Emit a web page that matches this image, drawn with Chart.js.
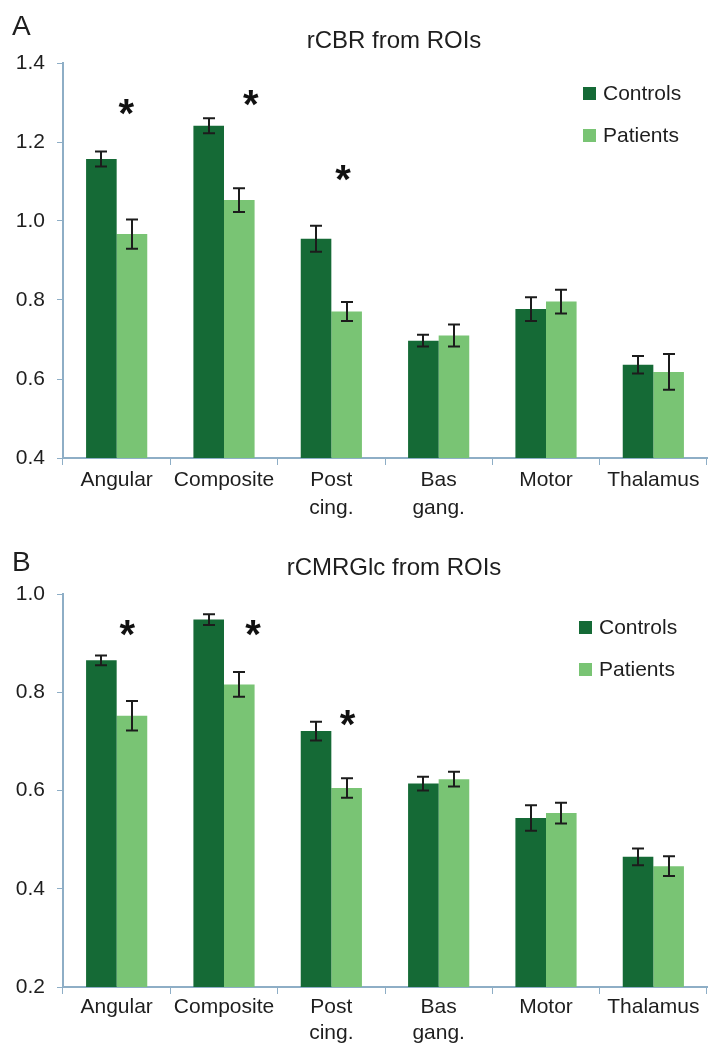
<!DOCTYPE html>
<html>
<head>
<meta charset="utf-8">
<script src="https://cdn.jsdelivr.net/npm/chart.js@4/dist/chart.umd.min.js"></script>
<style>
  body{margin:0;background:#fff;}
  #wrap{position:relative;width:708px;height:1043px;}
  .box{position:absolute;left:0;width:708px;}
</style>
</head>
<body>
<div id="wrap">
  <div class="box" style="top:0;height:521px"><canvas id="chartA"></canvas></div>
  <div class="box" style="top:521px;height:522px"><canvas id="chartB"></canvas></div>
</div>
<script>
// regions
var categories = ['Angular', 'Composite', ['Post', 'cing.'], ['Bas', 'gang.'], 'Motor', 'Thalamus'];

// A: rCBR
var cbrControls    = [1.157, 1.241, 0.955, 0.697, 0.777, 0.636];
var cbrControlsErr = [0.019, 0.019, 0.033, 0.015, 0.030, 0.022];
var cbrPatients    = [0.967, 1.053, 0.771, 0.710, 0.796, 0.618];
var cbrPatientsErr = [0.037, 0.030, 0.024, 0.028, 0.030, 0.045];
var cbrSigIdx   = [0, 1, 2];
var cbrSigLevel = [1.289, 1.311, 1.122];

// B: rCMRGlc
var glcControls    = [0.865, 0.948, 0.721, 0.614, 0.544, 0.465];
var glcControlsErr = [0.010, 0.011, 0.019, 0.014, 0.026, 0.017];
var glcPatients    = [0.752, 0.816, 0.605, 0.623, 0.554, 0.446];
var glcPatientsErr = [0.030, 0.025, 0.020, 0.015, 0.021, 0.020];
var glcSigIdx   = [0, 1, 2];
var glcSigLevel = [0.931, 0.931, 0.748];

var darkGreen = '#156a36';
var lightGreen = '#79c474';
var axisColor = '#8eaec6';
var textColor = '#1e1e1e';
var FONT = '"Liberation Sans", Arial, sans-serif';

//draws error bars, asterisks, legend, title and panel letter
var decor = {
    id: 'decor',
    afterDatasetsDraw: function(chart, args, o) {
        var ctx = chart.ctx, ys = chart.scales.y, xs = chart.scales.x;
        ctx.save();
        ctx.strokeStyle = '#1c1c1c';
        ctx.lineWidth = 2;
        chart.data.datasets.forEach(function(ds, i) {
            var meta = chart.getDatasetMeta(i);
            meta.data.forEach(function(bar, j) {
                var v = ds.data[j], e = ds.errors[j];
                var t = ys.getPixelForValue(v + e), b = ys.getPixelForValue(v - e);
                var x = Math.round(bar.x);
                ctx.beginPath();
                ctx.moveTo(x, t); ctx.lineTo(x, b);
                ctx.moveTo(x - 6, t); ctx.lineTo(x + 6, t);
                ctx.moveTo(x - 6, b); ctx.lineTo(x + 6, b);
                ctx.stroke();
            });
        });
        // significance marks
        var cw = xs.width / chart.data.labels.length;
        ctx.fillStyle = '#111';
        ctx.font = 'bold 40px ' + FONT;
        ctx.textAlign = 'center';
        ctx.textBaseline = 'alphabetic';
        var m = ctx.measureText('*');
        var shift = (m.actualBoundingBoxAscent - m.actualBoundingBoxDescent) / 2;
        o.sigIdx.forEach(function(k, n) {
            var x = xs.getPixelForValue(k) + o.sigShift[n] * cw;
            var y = ys.getPixelForValue(o.sigLevel[n]);
            ctx.fillText('*', x, y + shift);
        });
        ctx.restore();
    },
    afterDraw: function(chart, args, o) {
        var ctx = chart.ctx, area = chart.chartArea;
        ctx.save();
        ctx.fillStyle = textColor;
        ctx.textBaseline = 'middle';
        // panel letter
        ctx.font = '28px ' + FONT;
        ctx.textAlign = 'left';
        ctx.fillText(o.letter, 12, o.letterY);
        // title
        ctx.font = '24px ' + FONT;
        ctx.textAlign = 'center';
        ctx.fillText(o.title, 394, o.titleY);
        // legend
        ctx.font = '21px ' + FONT;
        ctx.textAlign = 'left';
        chart.data.datasets.forEach(function(ds, i) {
            var y = area.top + o.legendTop + i * 42;
            ctx.fillStyle = ds.backgroundColor;
            ctx.fillRect(o.legendX, y - 6, 13, 13);
            ctx.fillStyle = textColor;
            ctx.fillText(ds.label, o.legendX + 20, y + 1);
        });
        ctx.restore();
    }
};

function makeChart(id, ctrl, ctrlErr, pat, patErr, ymin, ymax, extra) {
    return new Chart(document.getElementById(id), {
        type: 'bar',
        data: {
            labels: categories,
            datasets: [
                {label: 'Controls', data: ctrl, errors: ctrlErr, backgroundColor: darkGreen},
                {label: 'Patients', data: pat, errors: patErr, backgroundColor: lightGreen}
            ]
        },
        plugins: [decor],
        options: {
            responsive: true,
            maintainAspectRatio: false,
            animation: false,
            devicePixelRatio: 1,
            layout: {padding: {top: extra.padTop, right: 1, bottom: 0, left: 0}},
            datasets: {bar: {categoryPercentage: 0.57, barPercentage: 1.0}},
            plugins: {
                legend: {display: false},
                title: {display: false},
                tooltip: {enabled: false},
                decor: extra
            },
            scales: {
                x: {
                    grid: {display: true, drawOnChartArea: false, color: axisColor, tickLength: 7, offset: true},
                    border: {color: axisColor, width: 2},
                    ticks: {color: textColor, font: {family: FONT, size: 21, lineHeight: extra.lh}, padding: extra.xPad, maxRotation: 0, autoSkip: false},
                    afterFit: function(s) { s.height = extra.xHeight; }
                },
                y: {
                    min: ymin, max: ymax,
                    grid: {display: true, drawOnChartArea: false, color: axisColor, tickLength: 6},
                    border: {color: axisColor, width: 2},
                    ticks: {stepSize: 0.2, color: textColor, font: {family: FONT, size: 21}, padding: 12,
                        callback: function(v) { return v.toFixed(1); }},
                    afterFit: function(s) { s.width = 63; }
                }
            }
        }
    });
}

makeChart('chartA', cbrControls, cbrControlsErr, cbrPatients, cbrPatientsErr, 0.4, 1.4, {
    padTop: 63, xHeight: 63, xPad: 2, lh: 1.3,
    letter: 'A', letterY: 27, title: 'rCBR from ROIs', titleY: 41,
    legendX: 583, legendTop: 30,
    sigIdx: cbrSigIdx, sigLevel: cbrSigLevel, sigShift: [0.09, 0.25, 0.11]
});

makeChart('chartB', glcControls, glcControlsErr, glcPatients, glcPatientsErr, 0.2, 1.0, {
    padTop: 73, xHeight: 56, xPad: 0, lh: 1.25,
    letter: 'B', letterY: 42, title: 'rCMRGlc from ROIs', titleY: 47,
    legendX: 579, legendTop: 33,
    sigIdx: glcSigIdx, sigLevel: glcSigLevel, sigShift: [0.10, 0.27, 0.15]
});
</script>
</body>
</html>
